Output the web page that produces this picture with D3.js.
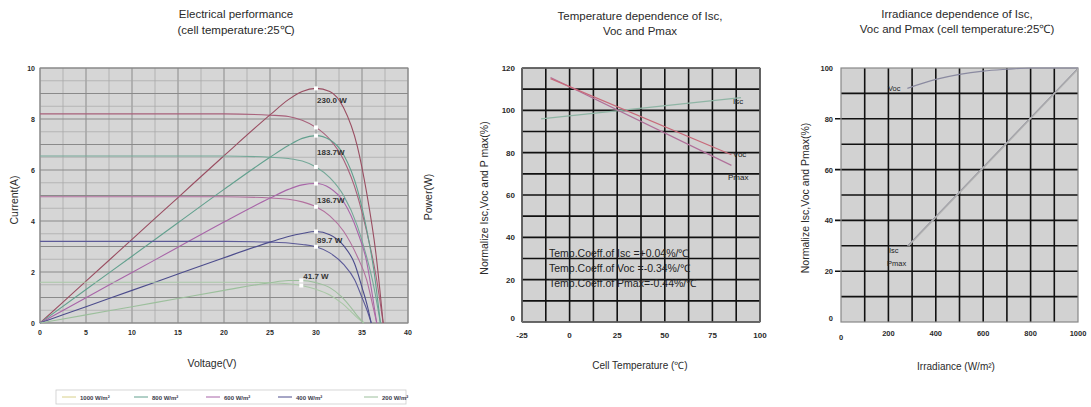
<!DOCTYPE html>
<html><head><meta charset="utf-8">
<script src="https://cdn.jsdelivr.net/npm/d3@7/dist/d3.min.js"></script>
<style>
body{margin:0;background:#fff;}
svg{display:block;font-family:"Liberation Sans",Arial,sans-serif;}
</style></head>
<body>
<svg id="c" width="1091" height="407"></svg>
<script>
// ---------- Chart 1 data: I-V and P-V curves ----------
const irradianceLabels = ["1000 W/m²","800 W/m²","600 W/m²","400 W/m²","200 W/m²"];
const v1000 = [0,5,10,15,20,25,27,28.5,30,31.5,33,34.5,35.5,36.5,37.3];
const i1000 = [8.2,8.2,8.2,8.2,8.2,8.15,8.1,7.95,7.67,7.2,6.4,5.0,3.6,1.9,0];
const p1000 = [0,41,82,123,164,204,219,227,230,227,211,173,128,69,0];
const v800 = [0,5,10,15,20,25,27,28.5,30,31.5,33,34.5,35.5,36.3,37.0];
const i800 = [6.55,6.55,6.55,6.55,6.55,6.5,6.45,6.35,6.12,5.7,5.0,3.8,2.6,1.4,0];
const p800 = [0,32.8,65.5,98.3,131,162.5,174,181,183.7,179.6,165,131,92,51,0];
const v600 = [0,5,10,15,20,25,27,28.5,30,31.5,33,34.5,35.5,36.1,36.6];
const i600 = [4.95,4.95,4.95,4.95,4.95,4.9,4.85,4.75,4.56,4.2,3.6,2.6,1.7,0.8,0];
const p600 = [0,24.8,49.5,74.3,99,122.5,131,135.4,136.7,132.3,118.8,89.7,60.4,28.9,0];
const v400 = [0,5,10,15,20,25,27,28.5,30,31.5,33,34.2,35.0,35.6,36.0];
const i400 = [3.2,3.2,3.2,3.2,3.2,3.17,3.14,3.08,2.99,2.75,2.3,1.7,1.0,0.45,0];
const p400 = [0,16,32,48,64,79.3,84.8,87.8,89.7,86.6,75.9,58.1,35,16,0];
const v200 = [0,5,10,15,20,25,27,28.4,30,31.5,32.8,33.8,34.5,35.2];
const i200 = [1.6,1.6,1.6,1.6,1.6,1.58,1.54,1.47,1.32,1.1,0.78,0.45,0.2,0];
const p200 = [0,8,16,24,32,39.5,41.6,41.7,39.6,34.7,25.6,15.2,6.9,0];
const pmaxLabels = ["230.0 W","183.7W","136.7W","89.7 W","41.7 W"];
const mppVoltage = [30,30,30,30,28.4];
const mppPower = [230,183.7,136.7,89.7,41.7];
const mppCurrent = [7.67,6.12,4.56,2.99,1.47];
const vTicks = [0,5,10,15,20,25,30,35,40];
const iTicks = [0,2,4,6,8,10];

// ---------- Chart 2 data: temperature dependence ----------
const tempTicks = [-25,0,25,50,75,100];
const normTicks2 = [0,20,40,60,80,100,120];
const tempIsc = [-15,90];   const valIsc = [96,106];
const tempVoc = [-10,85];   const valVoc = [115,79];
const tempPmax = [-10,85];  const valPmax = [115.5,74];
const coeffTexts = ["Temp.Coeff.of Isc =+0.04%/℃","Temp.Coeff.of Voc =-0.34%/℃","Temp.Coeff.of Pmax=-0.44%/℃"];

// ---------- Chart 3 data: irradiance dependence ----------
const irrTicks = [0,200,400,600,800,1000];
const normTicks3 = [0,20,40,60,80,100];
const irrVoc = [280,400,500,600,700,800,1000];
const valVoc3 = [92,95.5,97.5,98.8,99.5,100,100];
const irrIsc = [280,1000];  const valIsc3 = [30,100];
const irrPmax = [285,1000]; const valPmax3 = [30,99.6];

const svg = d3.select("#c");
const txt = "#2a2a2a";

function title(lines, cx, y0, dy, size){
  lines.forEach((t,k)=>svg.append("text").attr("x",cx).attr("y",y0+k*dy)
    .attr("text-anchor","middle").attr("font-size",size).attr("fill",txt).text(t));
}
function vtitle(t, x, cy, size){
  svg.append("text").attr("transform",`translate(${x},${cy}) rotate(-90)`)
    .attr("text-anchor","middle").attr("font-size",size).attr("fill",txt).text(t);
}

// ================= Chart 1 =================
const x1 = d3.scaleLinear().domain([0,40]).range([40,408]);
const y1 = d3.scaleLinear().domain([0,10]).range([323,68]);
const yP = d3.scaleLinear().domain([0,250]).range([323,68]);
const g1 = svg.append("g");
g1.append("rect").attr("x",x1(0)).attr("y",y1(10)).attr("width",x1(40)-x1(0)).attr("height",y1(0)-y1(10)).attr("fill","#d6d6d6");
d3.range(0,40.01,2.5).forEach(v=>g1.append("line").attr("x1",x1(v)).attr("x2",x1(v)).attr("y1",y1(0)).attr("y2",y1(10))
  .attr("stroke", v%5===0?"#8a8a8a":"#a4a4a4").attr("stroke-width", v%5===0?1:0.7));
d3.range(0,10.01,0.5).forEach(v=>g1.append("line").attr("y1",y1(v)).attr("y2",y1(v)).attr("x1",x1(0)).attr("x2",x1(40))
  .attr("stroke", v%1===0?"#8a8a8a":"#a8a8a8").attr("stroke-width", v%1===0?1:0.7));
g1.append("rect").attr("x",x1(0)).attr("y",y1(10)).attr("width",x1(40)-x1(0)).attr("height",y1(0)-y1(10)).attr("fill","none").attr("stroke","#888").attr("stroke-width",1);

const ivColors = ["#a8607a","#74a898","#b2709e","#5c5a98","#a9c7a6"];
const pColors  = ["#9a4e62","#62a08e","#a865a8","#4c4c8c","#9cbf9c"];
const Vs=[v1000,v800,v600,v400,v200], Is=[i1000,i800,i600,i400,i200], Ps=[p1000,p800,p600,p400,p200];
const curve = d3.line().curve(d3.curveMonotoneX);
Vs.forEach((vs,k)=>{
  g1.append("path").attr("d", curve(vs.map((v,j)=>[x1(v), y1(Is[k][j])])))
    .attr("fill","none").attr("stroke",ivColors[k]).attr("stroke-width",1.1);
  g1.append("path").attr("d", curve(vs.map((v,j)=>[x1(v), yP(Ps[k][j])])))
    .attr("fill","none").attr("stroke",pColors[k]).attr("stroke-width",1.1);
});
mppVoltage.forEach((v,k)=>{
  [yP(mppPower[k]), y1(mppCurrent[k])].forEach(yy=>
    g1.append("rect").attr("x",x1(v)-2).attr("y",yy-2).attr("width",4).attr("height",4).attr("fill","#fff"));
  g1.append("text").attr("x",x1(v)+ (k===4?2:1)).attr("y",yP(mppPower[k])+ [12,16,16,8,-4][k]+3)
    .attr("font-size",8).attr("font-weight","bold").attr("fill","#333").text(pmaxLabels[k]);
});
vTicks.forEach(v=>g1.append("text").attr("x",x1(v)).attr("y",335).attr("text-anchor","middle").attr("font-size",7).attr("font-weight","bold").attr("fill",txt).text(v));
iTicks.forEach(v=>g1.append("text").attr("x",35).attr("y",y1(v)+3).attr("text-anchor","end").attr("font-size",7).attr("font-weight","bold").attr("fill",txt).text(v));
title(["Electrical performance","(cell temperature:25℃)"],236,18,16,11.5);
vtitle("Current(A)",18,200,10.5);
vtitle("Power(W)",432,197,10.5);
svg.append("text").attr("x",212).attr("y",367).attr("text-anchor","middle").attr("font-size",10.5).attr("fill",txt).text("Voltage(V)");
// legend
svg.append("rect").attr("x",56).attr("y",390).attr("width",350).attr("height",14).attr("fill","none").attr("stroke","#ccc").attr("stroke-width",0.8);
const legX=[62,134,206,278,364];
irradianceLabels.forEach((t,k)=>{
  svg.append("line").attr("x1",legX[k]).attr("x2",legX[k]+14).attr("y1",397).attr("y2",397).attr("stroke",k===0?"#d8d08a":pColors[k]).attr("stroke-width",1);
  svg.append("text").attr("x",legX[k]+18).attr("y",399.5).attr("font-size",6).attr("font-weight","bold").attr("fill","#3a3a4a").text(t);
});

// ================= Chart 2 =================
const x2 = d3.scaleLinear().domain([-25,100]).range([522,760]);
const y2 = d3.scaleLinear().domain([0,120]).range([322,68]);
const g2 = svg.append("g");
g2.append("rect").attr("x",x2(-25)).attr("y",y2(120)).attr("width",x2(100)-x2(-25)).attr("height",y2(0)-y2(120)).attr("fill","#d2d2d2");
d3.range(-25,100.01,12.5).forEach(v=>g2.append("line").attr("x1",x2(v)).attr("x2",x2(v)).attr("y1",y2(0)).attr("y2",y2(120)).attr("stroke","#111").attr("stroke-width",1.6));
d3.range(0,120.01,10).forEach(v=>g2.append("line").attr("y1",y2(v)).attr("y2",y2(v)).attr("x1",x2(-25)).attr("x2",x2(100)).attr("stroke","#111").attr("stroke-width",1.6));
g2.append("rect").attr("x",x2(-25)).attr("y",y2(120)).attr("width",x2(100)-x2(-25)).attr("height",y2(0)-y2(120)).attr("fill","none").attr("stroke","#888").attr("stroke-width",1);
const ln = d3.line();
g2.append("path").attr("d",ln(tempIsc.map((t,j)=>[x2(t),y2(valIsc[j])]))).attr("fill","none").attr("stroke","#8fb5a5").attr("stroke-width",1.2);
g2.append("path").attr("d",ln(tempPmax.map((t,j)=>[x2(t),y2(valPmax[j])]))).attr("fill","none").attr("stroke","#b0709a").attr("stroke-width",1.2);
g2.append("path").attr("d",ln(tempVoc.map((t,j)=>[x2(t),y2(valVoc[j])]))).attr("fill","none").attr("stroke","#c86a7a").attr("stroke-width",1.2);
[["Isc",733,104],["Voc",733,157],["Pmax",728,180]].forEach(a=>g2.append("text").attr("x",a[1]).attr("y",a[2]).attr("font-size",8).attr("fill","#222").text(a[0]));
coeffTexts.forEach((t,k)=>g2.append("text").attr("x",549).attr("y",257+k*15).attr("font-size",10.5).attr("fill","#222").text(t));
tempTicks.forEach(v=>svg.append("text").attr("x",x2(v)).attr("y",338).attr("text-anchor","middle").attr("font-size",8).attr("font-weight","bold").attr("fill",txt).text(v));
normTicks2.forEach(v=>svg.append("text").attr("x",515).attr("y",y2(v)+(v===0?-1:3)).attr("text-anchor","end").attr("font-size",8).attr("font-weight","bold").attr("fill",txt).text(v));
title(["Temperature dependence of Isc,","Voc and Pmax"],640,20,15,11.5);
vtitle("Normalize Isc,Voc and P max(%)",488,198,10.5);
svg.append("text").attr("x",640).attr("y",369).attr("text-anchor","middle").attr("font-size",10).attr("fill",txt).text("Cell Temperature (℃)");

// ================= Chart 3 =================
const x3 = d3.scaleLinear().domain([0,1000]).range([841,1078]);
const y3 = d3.scaleLinear().domain([0,100]).range([322,68]);
const g3 = svg.append("g");
g3.append("rect").attr("x",x3(0)).attr("y",y3(100)).attr("width",x3(1000)-x3(0)).attr("height",y3(0)-y3(100)).attr("fill","#d2d2d2");
d3.range(100,900.01,100).forEach(v=>g3.append("line").attr("x1",x3(v)).attr("x2",x3(v)).attr("y1",y3(0)).attr("y2",y3(100)).attr("stroke","#111").attr("stroke-width",1.6));
d3.range(10,90.01,10).forEach(v=>g3.append("line").attr("y1",y3(v)).attr("y2",y3(v)).attr("x1",x3(0)-(v%20===0?6:0)).attr("x2",x3(1000)).attr("stroke","#111").attr("stroke-width",1.6));
g3.append("rect").attr("x",x3(0)).attr("y",y3(100)).attr("width",x3(1000)-x3(0)).attr("height",y3(0)-y3(100)).attr("fill","none").attr("stroke","#888").attr("stroke-width",1.2);
g3.append("path").attr("d",d3.line().curve(d3.curveMonotoneX)(irrVoc.map((t,j)=>[x3(t),y3(valVoc3[j])]))).attr("fill","none").attr("stroke","#8a8aa0").attr("stroke-width",1.2);
g3.append("path").attr("d",ln(irrPmax.map((t,j)=>[x3(t),y3(valPmax3[j])]))).attr("fill","none").attr("stroke","#b0b0b0").attr("stroke-width",1.6);
g3.append("path").attr("d",ln(irrIsc.map((t,j)=>[x3(t),y3(valIsc3[j])]))).attr("fill","none").attr("stroke","#9a9aa4").attr("stroke-width",1);
[["Voc",888,91],["Isc",889,253],["Pmax",887,266]].forEach(a=>g3.append("text").attr("x",a[1]).attr("y",a[2]).attr("font-size",7.5).attr("fill","#222").text(a[0]));
irrTicks.forEach(v=>svg.append("text").attr("x",x3(v)).attr("y",v===0?340:336).attr("text-anchor","middle").attr("font-size",7.5).attr("font-weight","bold").attr("fill",txt).text(v));
normTicks3.forEach(v=>svg.append("text").attr("x",833).attr("y",y3(v)+(v===0?-1:3)).attr("text-anchor","end").attr("font-size",7.5).attr("font-weight","bold").attr("fill",txt).text(v));
title(["Irradiance dependence of Isc,","Voc and Pmax (cell temperature:25℃)"],957,18,15,11.5);
vtitle("Normalize Isc,Voc and Pmax(%)",809,198,10.5);
svg.append("text").attr("x",956).attr("y",370).attr("text-anchor","middle").attr("font-size",10).attr("fill",txt).text("Irradiance (W/m²)");
</script>
</body></html>
